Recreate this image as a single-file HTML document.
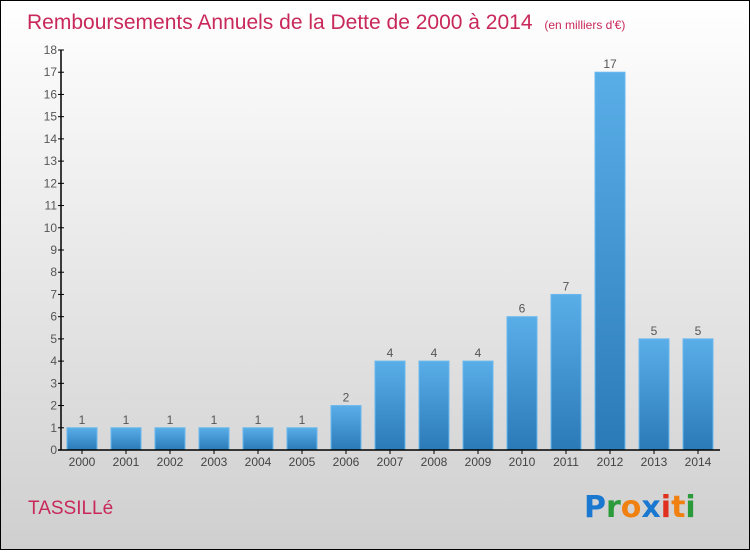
<!DOCTYPE html>
<html><head><meta charset="utf-8"><style>
html,body{margin:0;padding:0}
body{width:750px;height:550px;overflow:hidden;font-family:"Liberation Sans",sans-serif}
</style></head><body>
<svg id="chart" width="750" height="550" xmlns="http://www.w3.org/2000/svg">
<defs>
<linearGradient id="bg" x1="0" y1="0" x2="0" y2="1"><stop offset="0" stop-color="#ffffff"/><stop offset="1" stop-color="#cfcfcf"/></linearGradient>
<linearGradient id="bar" x1="0" y1="0" x2="0" y2="1"><stop offset="0" stop-color="#5aaee8"/><stop offset="1" stop-color="#2a7ab8"/></linearGradient>
</defs>
<rect x="0.5" y="0.5" width="749" height="549" fill="url(#bg)" stroke="#000"/>
<text x="27" y="29" font-size="21" fill="#c8285a">Remboursements Annuels de la Dette de 2000 à 2014 <tspan font-size="12" dx="6">(en milliers d'€)</tspan></text>
<g id="yaxis"></g>
<g id="bars"></g>
<g id="xaxis"></g>
<text x="28" y="514" font-size="19" fill="#c8285a">TASSILLé</text>
<g font-size="30" font-weight="bold" font-family="'DejaVu Sans',sans-serif">
<text x="584" y="517"><tspan fill="#1a78d0">P</tspan><tspan fill="#2a9a3a">r</tspan><tspan fill="#f08010">o</tspan><tspan fill="#1a78d0">x</tspan><tspan fill="#e03020">i</tspan><tspan fill="#f08010">t</tspan><tspan fill="#2a9a3a">i</tspan></text>
</g>
</svg>
<script>
const categories=["2000","2001","2002","2003","2004","2005","2006","2007","2008","2009","2010","2011","2012","2013","2014"];
const values=[1,1,1,1,1,1,2,4,4,4,6,7,17,5,5];
const yTicks=[0,1,2,3,4,5,6,7,8,9,10,11,12,13,14,15,16,17,18];
const NS="http://www.w3.org/2000/svg";
const y0=450,yMax=18,ph=400,x0=82,step=44,bw=30;
const yS=v=>y0-v/yMax*ph;
const xS=i=>x0+i*step;
function mk(t,a,p){const e=document.createElementNS(NS,t);for(const k in a)e.setAttribute(k,a[k]);p.appendChild(e);return e;}
const ya=document.getElementById('yaxis'),bg=document.getElementById('bars'),xa=document.getElementById('xaxis');
const ax=mk('line',{x1:61,y1:yS(yMax),x2:61,y2:y0,stroke:'#000','stroke-width':1.5},ya);

yTicks.forEach(v=>{
 const l=mk('line',{x1:58,x2:64,y1:yS(v),y2:yS(v),stroke:'#000'},ya);
 
 const t=mk('text',{x:57,y:yS(v)+4,'text-anchor':'end','font-size':12,fill:'#555'},ya);
 t.textContent=v;
 
});
values.forEach((v,i)=>{
 const r=mk('rect',{x:xS(i)-bw/2,y:yS(v),width:bw,height:y0-yS(v),fill:'url(#bar)',stroke:'#6ab8ee','stroke-width':1},bg);
 
 const t=mk('text',{x:xS(i),y:yS(v)-4,'text-anchor':'middle','font-size':12,fill:'#555'},bg);
 t.textContent=v;
 
});
const bl=mk('line',{x1:58,x2:720,y1:y0,y2:y0,stroke:'#000','stroke-width':1.5},xa);

categories.forEach((c,i)=>{
 const l=mk('line',{x1:xS(i),x2:xS(i),y1:y0,y2:y0+4,stroke:'#000'},xa);
 
 const t=mk('text',{x:xS(i),y:y0+16,'text-anchor':'middle','font-size':12,fill:'#444'},xa);
 t.textContent=c;
 
});
</script>
</body></html>
